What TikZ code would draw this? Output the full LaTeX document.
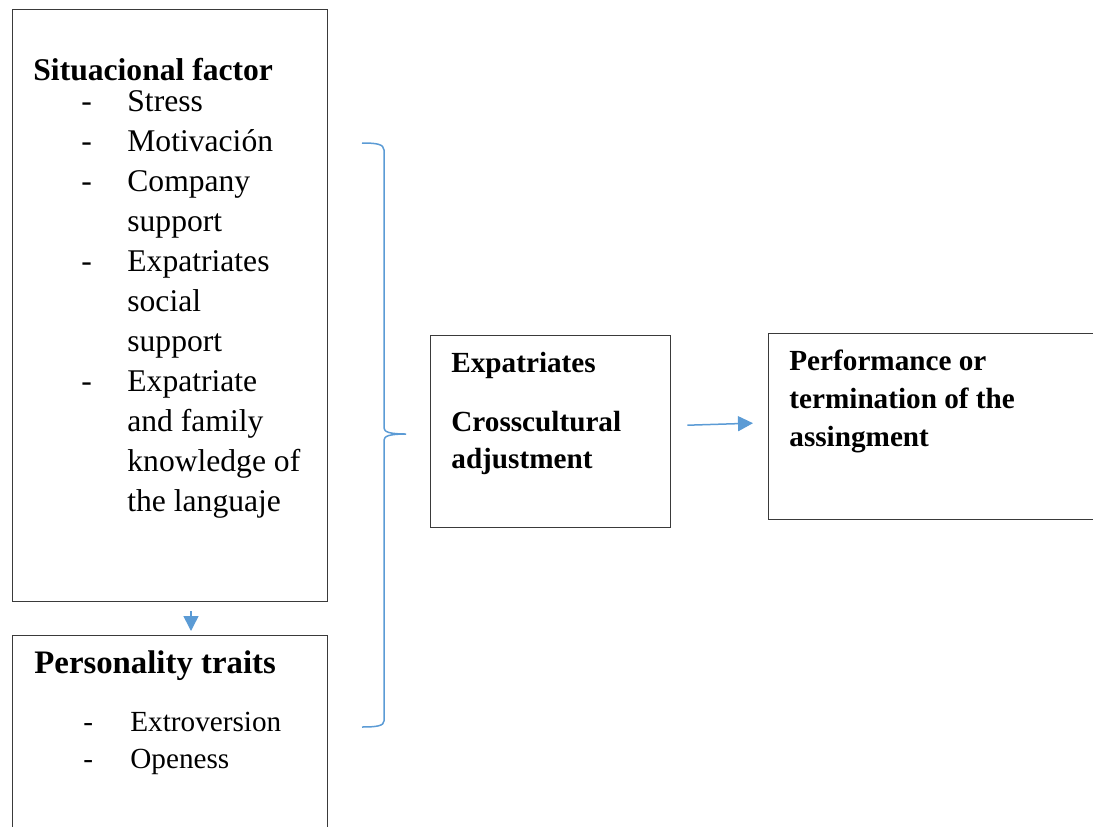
\documentclass[tikz,border=0pt]{standalone}
\usepackage{fontspec}
\setmainfont{Liberation Serif}
\usepackage{tikz}
\usetikzlibrary{arrows.meta, positioning}
\definecolor{linkblue}{HTML}{5B9BD5}
\definecolor{boxgray}{HTML}{3A3A3A}

\begin{document}
\begin{tikzpicture}[x=0.5pt, y=-0.5pt,
        box/.style={draw=boxgray, line width=0.7pt, anchor=north west, inner sep=0pt},
        txt/.style={anchor=base west, inner sep=0pt, font=\fontsize{15.8pt}{19pt}\selectfont},
        smalltxt/.style={txt, font=\fontsize{14.6pt}{18pt}\selectfont},
        head/.style={txt, font=\fontsize{15.8pt}{19pt}\selectfont\bfseries},
        smallhead/.style={txt, font=\fontsize{14.6pt}{18pt}\selectfont\bfseries},
        link/.style={draw=linkblue, line width=0.75pt, -{Triangle[width=7.5pt, length=7.5pt]}}]
        \useasboundingbox (0,0) rectangle (1093,826);
        \clip (0,0) rectangle (1093,826);

        % boxes
        \node[box, minimum width=157.5pt, minimum height=296pt] (situ) at (12,9) {};
        \node[box, minimum width=157.5pt, minimum height=112.5pt] (pers) at (12,635) {};
        \node[box, minimum width=120pt, minimum height=96pt] (adj) at (430,335) {};
        \node[box, minimum width=176pt, minimum height=93pt] (perf) at (768,333) {};

        % situational factors
        \node[head] (situ-title) at (33,80) {Situacional factor};
        \foreach \t [count=\i] in {Stress, Motivación, Company, support, Expatriates, social, support, Expatriate, and family, knowledge of, the languaje}
            \node[txt] (situ-\i) at (127,71+40*\i) {\t};
        \foreach \i in {1,2,3,5,8}
            \node[txt] (situ-d\i) at (81,71+40*\i) {-};

        % personality
        \node[head, font=\fontsize{16.4pt}{19pt}\selectfont\bfseries] (pers-title) at (34,673) {Personality traits};
        \node[smalltxt] (pers-1) at (130,731) {Extroversion};
        \node[smalltxt] (pers-2) at (130,768) {Openess};
        \node[smalltxt] (pers-d1) at (83,731) {-};
        \node[smalltxt] (pers-d2) at (83,768) {-};

        % adjustment
        \node[smallhead] (adj-1) at (451,372) {Expatriates};
        \node[smallhead] (adj-2) at (451,431) {Crosscultural};
        \node[smallhead] (adj-3) at (451,468) {adjustment};

        % outcome
        \node[smallhead] (perf-1) at (789,370) {Performance or};
        \node[smallhead] (perf-2) at (789,408) {termination of the};
        \node[smallhead] (perf-3) at (789,446) {assingment};

        % brace
        \draw[draw=linkblue, line width=0.75pt]
            (362,143) .. controls (376,143) and (384,144) .. (384,150) -- (384,428)
            .. controls (384,432) and (390,434) .. (406,434)
            .. controls (390,434) and (384,436) .. (384,440) -- (384,721)
            .. controls (384,726) and (376,727) .. (362,727);

        \coordinate (down) at (191,0);
        \draw[link, shorten <=4.5pt, shorten >=2pt] (situ.south -| down) -- (pers.north -| down);
        \draw[link, shorten <=8pt, shorten >=7.5pt] ([yshift=3pt]adj.east) -- ([yshift=2pt]perf.west);
    \end{tikzpicture}
\end{document}
